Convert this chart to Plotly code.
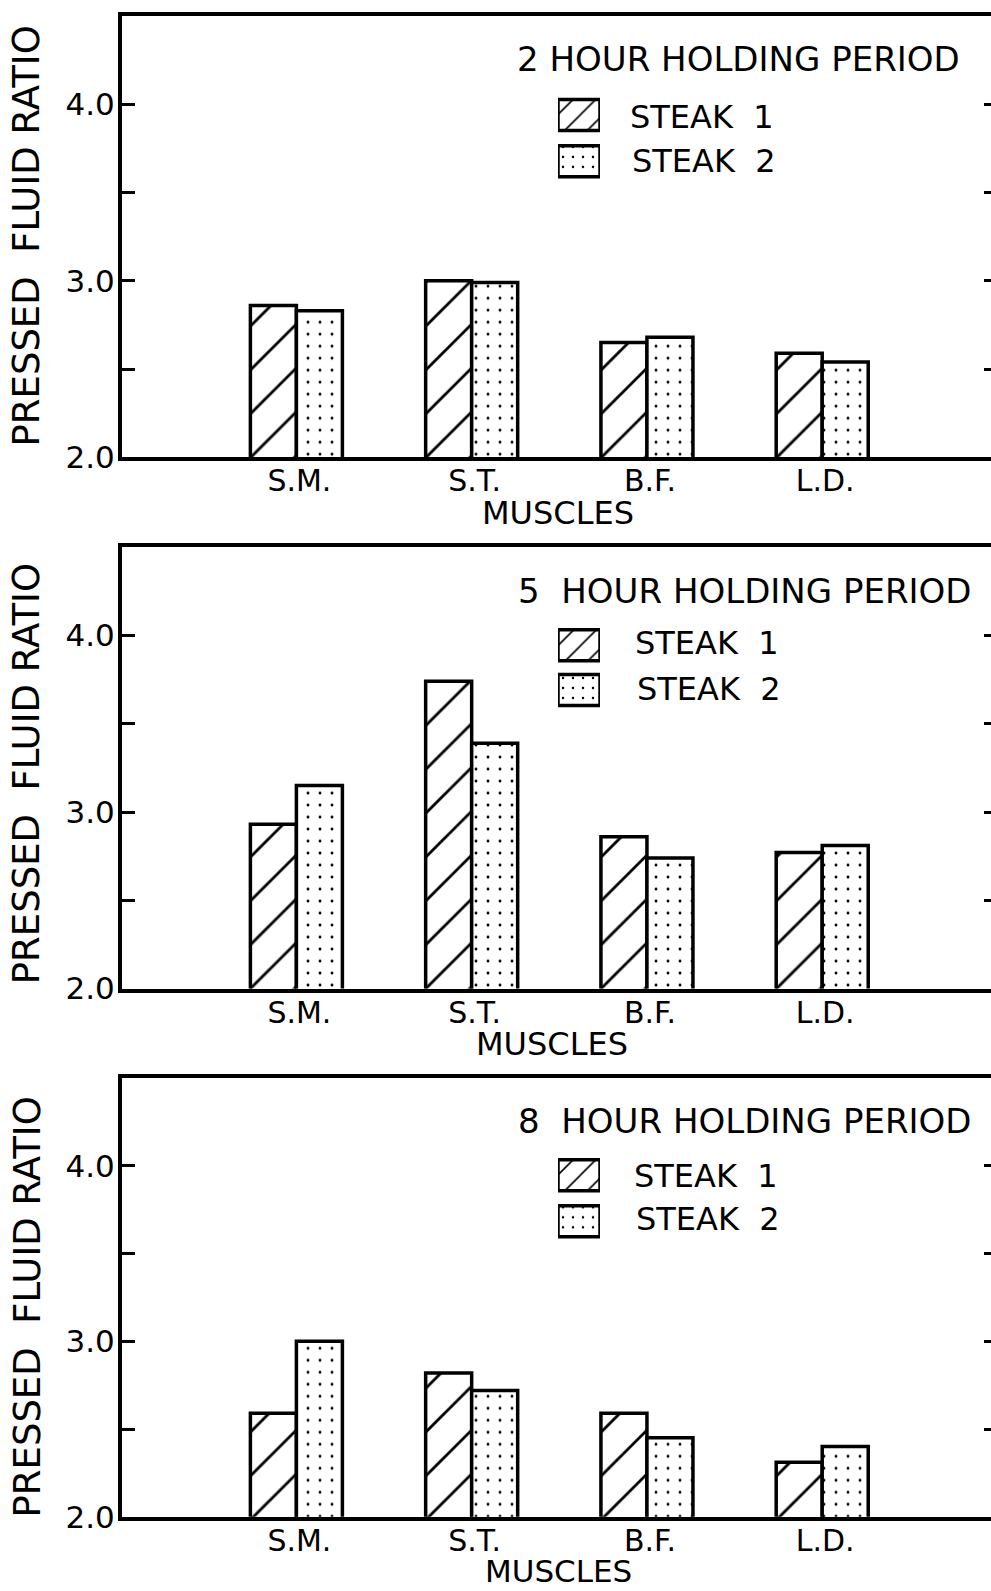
import plotly.graph_objects as go

# ---------------- data ----------------
muscles = ["S.M.", "S.T.", "B.F.", "L.D."]
period_titles = ["2 HOUR HOLDING PERIOD", "5\u00a0 HOUR HOLDING PERIOD", "8\u00a0 HOUR HOLDING PERIOD"]
series_names = ["STEAK\u00a0 1", "STEAK\u00a0 2"]

steak1_2h = [2.86, 3.00, 2.65, 2.59]
steak2_2h = [2.83, 2.99, 2.68, 2.54]
steak1_5h = [2.93, 3.74, 2.86, 2.77]
steak2_5h = [3.15, 3.39, 2.74, 2.81]
steak1_8h = [2.59, 2.82, 2.59, 2.31]
steak2_8h = [3.00, 2.72, 2.45, 2.40]

y_tick_vals = [2.0, 2.5, 3.0, 3.5, 4.0]
y_tick_text = ["2.0", "", "3.0", "", "4.0"]
y_title = "PRESSED\u00a0 FLUID RATIO"
x_title = "MUSCLES"

steak1 = [steak1_2h, steak1_5h, steak1_8h]
steak2 = [steak2_2h, steak2_5h, steak2_8h]

# ---------------- layout helpers ----------------
W, H = 991, 1591
FONT = "DejaVu Sans"
BAR_W = 0.2625


def fx(p):
    return p / W


def fy(p):
    return 1 - p / H


panel_top = [16.2, 547.1, 1078.3]
panel_bot = [457.3, 988.6, 1516.7]
title_y = [59.5, 590.7, 1120.7]
title_x = [515, 516, 516]
sw_c1 = [115, 645.3, 1175.3]
sw_c2 = [161.2, 690, 1221.3]
leg_y1 = [117.2, 643.4, 1175.9]
leg_y2 = [160.8, 689.1, 1219]
leg_x = [628, 633, 632]
ylab_y = [236, 773.7, 1307]
xlab_y = [513, 1044.3, 1571]
xlab_x = [558, 552, 558]

fig = go.Figure()
layout = dict(
    width=W, height=H,
    margin=dict(l=0, r=0, t=0, b=0, pad=0),
    paper_bgcolor="white", plot_bgcolor="white",
    barmode="overlay",
    showlegend=False,
    font=dict(family=FONT, color="black"),
)

annotations = []
hatch = dict(shape="/", size=31, solidity=0.09, fgcolor="black", bgcolor="white", fillmode="replace")
dots = dict(shape=".", size=12, solidity=0.045, fgcolor="black", bgcolor="white", fillmode="replace")

for i in range(3):
    n = i + 1
    xa = "x" if n == 1 else f"x{n}"
    ya = "y" if n == 1 else f"y{n}"
    yr = f"y{n + 3}"
    for vals, pat, name, yax, off in ((steak1[i], hatch, series_names[0], ya, -BAR_W),
                                      (steak2[i], dots, series_names[1], yr, 0.0)):
        fig.add_trace(go.Bar(
            x=list(range(len(muscles))), y=vals, name=name,
            xaxis=xa, yaxis=yax, width=BAR_W, offset=off,
            marker=dict(color="white", pattern=pat, line=dict(color="black", width=3.5)),
            hovertemplate="%{y:.2f}<extra>" + name + "</extra>",
        ))
    dom_y = [fy(panel_bot[i]), fy(panel_top[i])]
    layout["xaxis" if n == 1 else f"xaxis{n}"] = dict(
        domain=[fx(122), 1.0], anchor=ya, range=[-0.995, 3.963],
        tickvals=list(range(len(muscles))), ticktext=muscles,
        tickfont=dict(size=30, family=FONT), ticks="", showline=True, linewidth=4,
        linecolor="black", mirror=True, showgrid=False, zeroline=False,
        automargin=False, ticklabelstandoff=-6, ticklabelshift=3,
    )
    layout["yaxis" if n == 1 else f"yaxis{n}"] = dict(
        domain=dom_y, anchor=xa, range=[2, 4.5],
        tickvals=y_tick_vals, ticktext=y_tick_text,
        tickfont=dict(size=31, family=FONT), ticks="inside", ticklen=13, tickwidth=3,
        tickcolor="black", showline=True, linewidth=4, linecolor="black",
        showgrid=False, zeroline=False, automargin=False, ticklabelstandoff=-3,
    )
    # right-hand inside ticks (the right spine itself lies outside the picture)
    layout[f"yaxis{n + 3}"] = dict(
        overlaying=ya, anchor=xa, side="right", range=[2, 4.5],
        tickvals=y_tick_vals, showticklabels=False, ticks="inside", ticklen=7,
        tickwidth=3, tickcolor="black", showline=False, showgrid=False,
        zeroline=False, automargin=False,
    )
    # legend swatches on a tiny axis pair
    sxa = f"x{n + 6}"
    sya = f"y{n + 6}"
    dist = sw_c2[i] - sw_c1[i]
    mid = (sw_c1[i] + sw_c2[i]) / 2
    fig.add_trace(go.Bar(
        x=[1, 1], y=[1, 0], base=0, orientation="h", width=31.0 / dist,
        xaxis=sxa, yaxis=sya, cliponaxis=False, hoverinfo="skip",
        marker=dict(color="white", line=dict(color="black", width=3.5),
                    pattern=dict(shape=["/", "."], size=[16, 10], solidity=[0.1, 0.05],
                                 fgcolor="black", bgcolor="white", fillmode="replace")),
    ))
    layout[f"xaxis{n + 6}"] = dict(domain=[fx(558), fx(600)], anchor=sya, range=[0, 1],
                                   visible=False, fixedrange=True)
    layout[f"yaxis{n + 6}"] = dict(domain=[fy(mid + dist), fy(mid - dist)], anchor=sxa,
                                   range=[-0.5, 1.5], visible=False, fixedrange=True)

    annotations += [
        dict(text=period_titles[i], x=fx(title_x[i]), y=fy(title_y[i]), xref="paper", yref="paper",
             xanchor="left", yanchor="middle", showarrow=False, font=dict(size=34, family=FONT)),
        dict(text=series_names[0], x=fx(leg_x[i]), y=fy(leg_y1[i]), xref="paper", yref="paper",
             xanchor="left", yanchor="middle", showarrow=False, font=dict(size=32, family=FONT)),
        dict(text=series_names[1], x=fx(leg_x[i] + 2), y=fy(leg_y2[i]), xref="paper", yref="paper",
             xanchor="left", yanchor="middle", showarrow=False, font=dict(size=32, family=FONT)),
        dict(text=y_title, x=fx(26.5), y=fy(ylab_y[i]), xref="paper", yref="paper",
             xanchor="center", yanchor="middle", textangle=-90, showarrow=False,
             font=dict(size=37, family=FONT)),
        dict(text=x_title, x=fx(xlab_x[i]), y=fy(xlab_y[i]), xref="paper", yref="paper",
             xanchor="center", yanchor="middle", showarrow=False,
             font=dict(size=32 if i < 2 else 31, family=FONT)),
    ]

layout["annotations"] = annotations
fig.update_layout(**layout)
fig.write_html("out.html")
